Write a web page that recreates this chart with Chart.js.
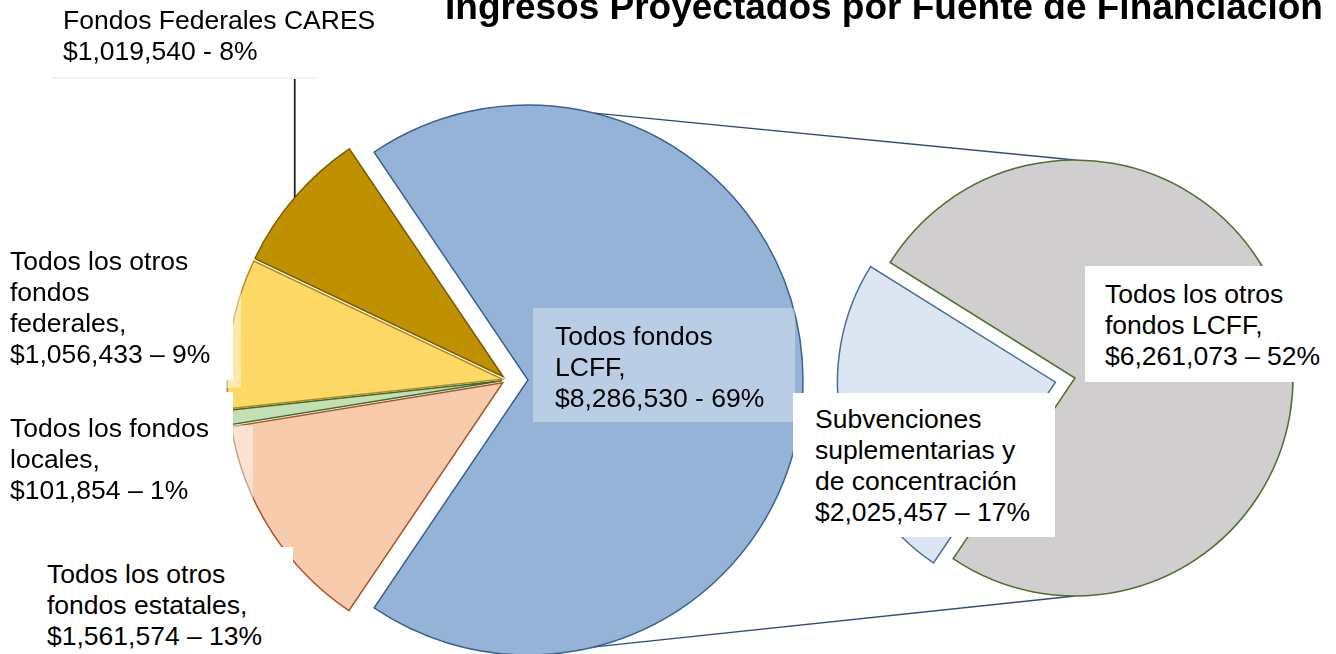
<!DOCTYPE html>
<html>
<head>
<meta charset="utf-8">
<title>Ingresos Proyectados por Fuente de Financiación</title>
<script src="https://cdn.jsdelivr.net/npm/chart.js@4.4.1/dist/chart.umd.min.js"></script>
<style>
  html, body { margin: 0; padding: 0; background: #fff; }
  #wrap { position: relative; width: 1336px; height: 654px; overflow: hidden;
          font-family: 'Liberation Sans', Arial, sans-serif; }
  canvas { position: absolute; left: 0; top: 0; }
  .box { position: absolute; }
  .lbl { position: absolute; font-size: 26.5px; line-height: 31px; color: #000; white-space: nowrap; }
  #title { position: absolute; left: 445px; top: -12px; font-size: 37px; font-weight: bold;
           line-height: 37px; white-space: nowrap; color: #000; }
</style>
</head>
<body>
<div id="wrap">
  <canvas id="mainPie" width="1336" height="654"></canvas>
  <canvas id="subPie" width="1336" height="654"></canvas>
  <div id="title">Ingresos Proyectados por Fuente de Financiación</div>
</div>
<script>
// main pie (LCFF is broken out into the second pie)
const mainCategories = ['Todos fondos LCFF', 'Todos los otros fondos estatales', 'Todos los fondos locales',
                        'Todos los otros fondos federales', 'Fondos Federales CARES'];
const mainValues = [8286530, 1561574, 101854, 1056433, 1019540];
const mainPercents = ['69%', '13%', '1%', '9%', '8%'];
const mainNameLines = [
  ['Todos fondos', 'LCFF,'],
  ['Todos los otros', 'fondos estatales,'],
  ['Todos los fondos', 'locales,'],
  ['Todos los otros', 'fondos', 'federales,'],
  ['Fondos Federales CARES']
];
const mainSeparators = [' - ', ' \u2013 ', ' \u2013 ', ' \u2013 ', ' - '];

// second pie: breakdown of LCFF
const subCategories = ['Subvenciones suplementarias y de concentración', 'Todos los otros fondos LCFF'];
const subValues = [2025457, 6261073];
const subPercents = ['17%', '52%'];
const subNameLines = [
  ['Subvenciones', 'suplementarias y', 'de concentración'],
  ['Todos los otros', 'fondos LCFF,']
];
const subSeparators = [' \u2013 ', ' \u2013 '];

const mainColors = ['#95b3d7', '#f8cbad', '#c4dfb3', '#ffd966', '#bf9000'];
const mainBorders = ['#3b6190', '#a9552a', '#3f6b2c', '#b08a1c', '#7a5c00'];
const subColors = ['#dce6f2', '#d0cece'];
const subBorders = ['#4a6c98', '#4f6f2e'];

const sum = arr => arr.reduce((a, b) => a + b, 0);
const money = v => '$' + v.toLocaleString('en-US');

// pushes each slice out along its middle angle without growing it
const explodePlugin = {
  id: 'explode',
  afterDatasetsUpdate(chart, args, opts) {
    const dist = opts.distances || [];
    chart.getDatasetMeta(0).data.forEach((arc, i) => {
      const d = dist[i] || 0;
      const mid = (arc.startAngle + arc.endAngle) / 2;
      arc.x += Math.cos(mid) * d;
      arc.y += Math.sin(mid) * d;
    });
  }
};

// leader line for the CARES label
const leaderPlugin = {
  id: 'leader',
  afterDatasetsDraw(chart, args, opts) {
    const arc = chart.getDatasetMeta(0).data[opts.index];
    if (!arc) return;
    const mid = (arc.startAngle + arc.endAngle) / 2;
    const px = arc.x + Math.cos(mid) * arc.outerRadius;
    const py = arc.y + Math.sin(mid) * arc.outerRadius;
    const ctx = chart.ctx;
    ctx.save();
    ctx.strokeStyle = '#262626';
    ctx.lineWidth = 1.8;
    ctx.beginPath();
    ctx.moveTo(px, py);
    ctx.lineTo(px, opts.toY);
    ctx.stroke();
    ctx.restore();
  }
};

const mainChart = new Chart(document.getElementById('mainPie'), {
  type: 'pie',
  data: {
    labels: mainCategories,
    datasets: [{
      data: mainValues,
      backgroundColor: mainColors,
      borderColor: mainBorders,
      borderWidth: 1.5,
      borderJoinStyle: 'miter',
      hoverOffset: 0
    }]
  },
  options: {
    responsive: false,
    animation: false,
    events: [],
    rotation: 90 - mainValues[0] / sum(mainValues) * 180,
    radius: 275,
    layout: { padding: { left: 0, right: 322, top: 106, bottom: 0 } },
    plugins: {
      legend: { display: false },
      tooltip: { enabled: false },
      explode: { distances: [21, 5, 5, 5, 5] },
      leader: { index: 4, toY: 79 }
    }
  },
  plugins: [explodePlugin, leaderPlugin]
});

// lines joining the LCFF slice to the second pie
const connectorPlugin = {
  id: 'connector',
  beforeDatasetsDraw(chart, args, opts) {
    const src = mainChart.getDatasetMeta(0).data[0];
    const dst = chart.getDatasetMeta(0).data[1];
    if (!src || !dst) return;
    const ctx = chart.ctx;
    ctx.save();
    ctx.strokeStyle = '#30497a';
    ctx.lineWidth = 1.3;
    [-1, 1].forEach(s => {
      const a = s * opts.angle * Math.PI / 180;
      ctx.beginPath();
      ctx.moveTo(src.x + Math.cos(a) * src.outerRadius, src.y + Math.sin(a) * src.outerRadius);
      ctx.lineTo(dst.x, dst.y + s * dst.outerRadius);
      ctx.stroke();
    });
    ctx.restore();
  }
};

const subChart = new Chart(document.getElementById('subPie'), {
  type: 'pie',
  data: {
    labels: subCategories,
    datasets: [{
      data: subValues,
      backgroundColor: subColors,
      borderColor: subBorders,
      borderWidth: 1.5,
      borderJoinStyle: 'miter',
      hoverOffset: 0
    }]
  },
  options: {
    responsive: false,
    animation: false,
    events: [],
    rotation: 168 + 90 - subValues[0] / sum(subValues) * 180,
    radius: 218,
    layout: { padding: { left: 814, right: 0, top: 102, bottom: 0 } },
    plugins: {
      legend: { display: false },
      tooltip: { enabled: false },
      explode: { distances: [20, 0] },
      connector: { angle: 76 }
    }
  },
  plugins: [explodePlugin, connectorPlugin]
});

// data labels (text boxes)
const wrap = document.getElementById('wrap');
function addBox(b) {
  const el = document.createElement('div');
  el.className = 'box';
  el.style.left = b[0] + 'px';
  el.style.top = b[1] + 'px';
  el.style.width = b[2] + 'px';
  el.style.height = b[3] + 'px';
  el.style.background = b[4];
  if (b[5]) el.style.borderBottom = b[5];
  wrap.appendChild(el);
}
function addLabel(lines, x, y) {
  const el = document.createElement('div');
  el.className = 'lbl';
  el.style.left = x + 'px';
  el.style.top = y + 'px';
  lines.forEach(t => {
    const d = document.createElement('div');
    d.textContent = t;
    el.appendChild(d);
  });
  wrap.appendChild(el);
}

const mainLabelPos = [[555, 320.5], [47, 558.5], [10, 412.5], [10, 245.5], [63, 4.5]];
const subLabelPos = [[815, 403.5], [1105, 278.5]];
const boxes = [
  [533, 308, 262, 114, 'rgba(255,255,255,0.34)'],
  [40, 547, 253, 107, '#fff'],
  [0, 392, 233, 138, '#fff'],
  [40, 425, 213, 122, 'rgba(255,255,255,0.45)'],
  [0, 236, 233, 144, '#fff'],
  [40, 272, 201, 116, 'rgba(255,255,255,0.45)'],
  [52, 0, 266, 77, '#fff', '2px solid #f3f3f3'],
  [793, 393, 262, 144, '#fff'],
  [1085, 266, 238, 116, '#fff']
];
boxes.forEach(addBox);

mainValues.forEach((v, i) => {
  const lines = mainNameLines[i].concat([money(v) + mainSeparators[i] + mainPercents[i]]);
  addLabel(lines, mainLabelPos[i][0], mainLabelPos[i][1]);
});
subValues.forEach((v, i) => {
  const lines = subNameLines[i].concat([money(v) + subSeparators[i] + subPercents[i]]);
  addLabel(lines, subLabelPos[i][0], subLabelPos[i][1]);
});
</script>
</body>
</html>
